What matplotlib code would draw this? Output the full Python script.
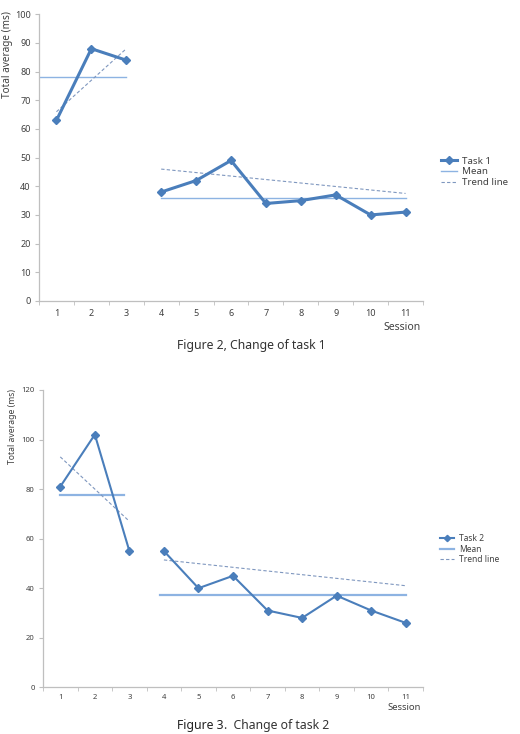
import numpy as np
import matplotlib
matplotlib.use("Agg")
import matplotlib.pyplot as plt
from matplotlib.lines import Line2D

plt.rcParams['font.family'] = ['Noto Sans', 'DejaVu Sans']

# --------------------------
# data
# --------------------------
sessions = [1, 2, 3, 4, 5, 6, 7, 8, 9, 10, 11]
task1 = [63, 88, 84, 38, 42, 49, 34, 35, 37, 30, 31]
task2 = [81, 102, 55, 55, 40, 45, 31, 28, 37, 31, 26]

# mean lines: (x start, x end, value) for each phase
mean1 = [(0.5, 3, 78.3), (4, 11, 36)]
mean2 = [(1, 2.85, 77.8), (3.9, 11, 37.4)]

# trend lines: (x start, x end, y start, y end)
trend1 = [(1, 3, 66, 88), (4, 11, 46, 37.5)]
trend2 = [(1, 3, 93, 67), (4, 11, 51.4, 41)]

blue = '#4A7EBB'
mean_col = '#8DB3E2'
trend_col = '#7F97BF'
axis_col = '#BFBFBF'
text_col = '#404040'

W, H = 520, 734
fig = plt.figure(figsize=(W / 100, H / 100), dpi=100)


def make_axes(rect, values, means, trends, ymax, ystep, label, lw, ms,
              tick_fs, xpad, leg_fs, leg_y, mean_lw):
    ax = fig.add_axes(rect)
    n = 3
    ax.plot(sessions[:n], values[:n], color=blue, lw=lw, marker='D',
            ms=ms, zorder=3)
    ax.plot(sessions[n:], values[n:], color=blue, lw=lw, marker='D',
            ms=ms, zorder=3)
    for x0, x1, m in means:
        ax.plot([x0, x1], [m, m], color=mean_col, lw=mean_lw, zorder=2)
    for x0, x1, y0, y1 in trends:
        ax.plot([x0, x1], [y0, y1], color=trend_col, lw=0.8,
                ls=(0, (3, 2)), zorder=2)

    ax.set_xlim(0.5, 11.5)
    ax.set_ylim(0, ymax)
    ax.set_yticks(np.arange(0, ymax + 1, ystep))
    ax.set_xticks(sessions)
    ax.set_xticks(np.arange(0.5, 12, 1), minor=True)
    ax.tick_params(axis='x', which='major', length=0, pad=xpad,
                   labelsize=tick_fs, labelcolor=text_col)
    ax.tick_params(axis='x', which='minor', length=3, color=axis_col,
                   direction='out')
    ax.tick_params(axis='y', length=3, color=axis_col, labelsize=tick_fs,
                   labelcolor=text_col, pad=3)
    for s in ['top', 'right']:
        ax.spines[s].set_visible(False)
    for s in ['left', 'bottom']:
        ax.spines[s].set_color(axis_col)
        ax.spines[s].set_linewidth(0.9)

    handles = [
        Line2D([], [], color=blue, lw=lw, marker='D', ms=ms * 0.8),
        Line2D([], [], color=mean_col, lw=mean_lw),
        Line2D([], [], color=trend_col, lw=0.8, ls=(0, (3, 2))),
    ]
    ax.legend(handles, [label, 'Mean', 'Trend line'], loc='center left',
              bbox_to_anchor=(0.838, leg_y), bbox_transform=fig.transFigure,
              frameon=False, fontsize=leg_fs, handlelength=1.7,
              handletextpad=0.5, labelspacing=0.2, borderpad=0,
              labelcolor=text_col)
    return ax


ax1 = make_axes([0.075, 0.59, 0.7385, 0.3905], task1, mean1, trend1,
                100, 10, 'Task 1', 2.2, 4.5, 6.5, 6, 7, 1 - 172 / H, 1.0)
ax2 = make_axes([0.0827, 0.0636, 0.7308, 0.4051], task2, mean2, trend2,
                120, 20, 'Task 2', 1.5, 4, 5.5, 4.5, 6.1, 1 - 549 / H, 1.6)

fig.text(421 / W, 1 - 327 / H, 'Session', ha='right', va='center',
         fontsize=7.5, color=text_col)
fig.text(421 / W, 1 - 708 / H, 'Session', ha='right', va='center',
         fontsize=6.8, color=text_col)

fig.text(8 / W, 1 - 55 / H, 'Total average (ms)', rotation=90,
         ha='center', va='center', fontsize=7.2, color=text_col)
fig.text(13 / W, 1 - 427 / H, 'Total average (ms)', rotation=90,
         ha='center', va='center', fontsize=6.2, color=text_col)

fig.text(251 / W, 1 - 345 / H, 'Figure 2, Change of task 1',
         ha='center', va='center', fontsize=8.8, color='#333333')

# caption 2: bold "Figure 3" followed by plain text
cap_a = fig.text(177 / W, 1 - 725 / H, 'Figure 3', ha='left', va='center',
                 fontsize=8.8, fontweight='bold', color='#222222')
fig.canvas.draw()
bb = cap_a.get_window_extent(fig.canvas.get_renderer())
fig.text(bb.x1 / W, 1 - 725 / H, '.  Change of task 2', ha='left',
         va='center', fontsize=8.8, color='#333333')

fig.savefig('out.png', dpi=100)
